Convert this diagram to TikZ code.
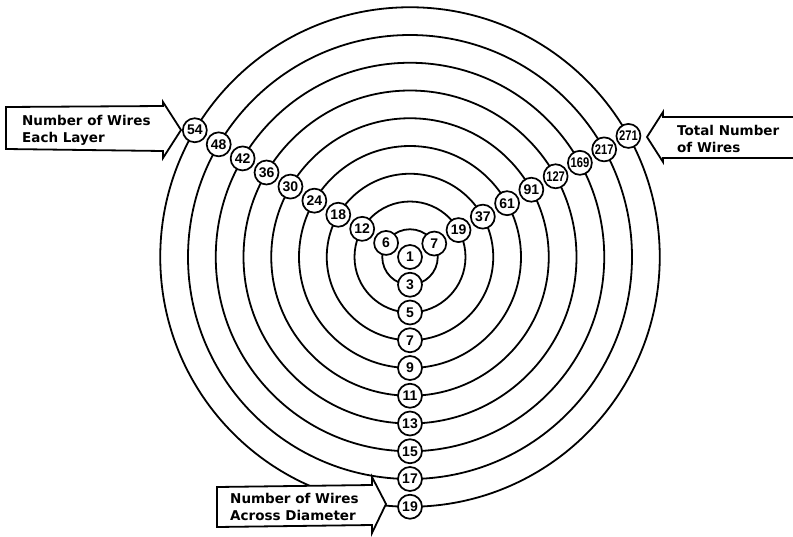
\documentclass[tikz,border=0pt]{standalone}
\usepackage{graphicx}
\usepackage{fontspec}
\setmainfont{DejaVu Sans}
\newfontfamily\numfont{Liberation Sans}
\usetikzlibrary{calc}
\newcommand{\sq}[1]{\scalebox{0.8}[1]{#1}}
\begin{document}
\begin{tikzpicture}[x=1pt,y=-1pt,
  ring/.style={line width=1.8pt},
  num/.style={circle, draw, line width=1.7pt, fill=white, minimum size=24pt,
    inner sep=0pt, font=\numfont\bfseries\fontsize{14}{14}\selectfont},
  box/.style={draw, line width=1.8pt, fill=white, line join=miter},
  lab/.style={anchor=base west, inner sep=0pt,
    font=\bfseries\fontsize{13.5}{16}\selectfont}]
\useasboundingbox (0,0) rectangle (793,536);
\coordinate (C) at (410,257);
% concentric layers
\foreach \k in {1,...,9} \draw[ring] (C) circle ({27.75*\k});
% wire count nodes
\node[num] (c) at (C) {1};
\foreach \k/\d/\l/\r in {1/3/6/7, 2/5/12/19, 3/7/18/37, 4/9/24/61, 5/11/30/91,
    6/13/36/\sq{127}, 7/15/42/\sq{169}, 8/17/48/\sq{217}, 9/19/54/\sq{271}} {
  \node[num] (d\k) at ($(C)+(90:{27.75*\k})$) {\d};
  \node[num] (l\k) at ($(C)+(210.5:{27.75*\k})$) {\l};
  \node[num] (r\k) at ($(C)+(331:{27.75*\k})$) {\r};
}
% left arrow
\draw[box] (6,107) -- (163,106) -- (163,102) -- (181,130) -- (163,158) -- (163,151) -- (6,149) -- cycle;
\node[lab] (la) at (22,125) {Number of Wires};
\node[lab] (lb) at (22,142) {Each Layer};
% right arrow
\draw[box] (795,117) -- (663,117) -- (663,112) -- (647,137) -- (663,162) -- (663,158) -- (795,158);
\node[lab] (ra) at (677,135) {Total Number};
\node[lab] (rb) at (677,152) {of Wires};
% bottom arrow
\draw[box] (217,487) -- (372,485) -- (372,477) -- (386,504) -- (372,533) -- (372,525) -- (217,527) -- cycle;
\node[lab] (ba) at (230,503) {Number of Wires};
\node[lab] (bb) at (230,520) {Across Diameter};
\end{tikzpicture}
\end{document}
